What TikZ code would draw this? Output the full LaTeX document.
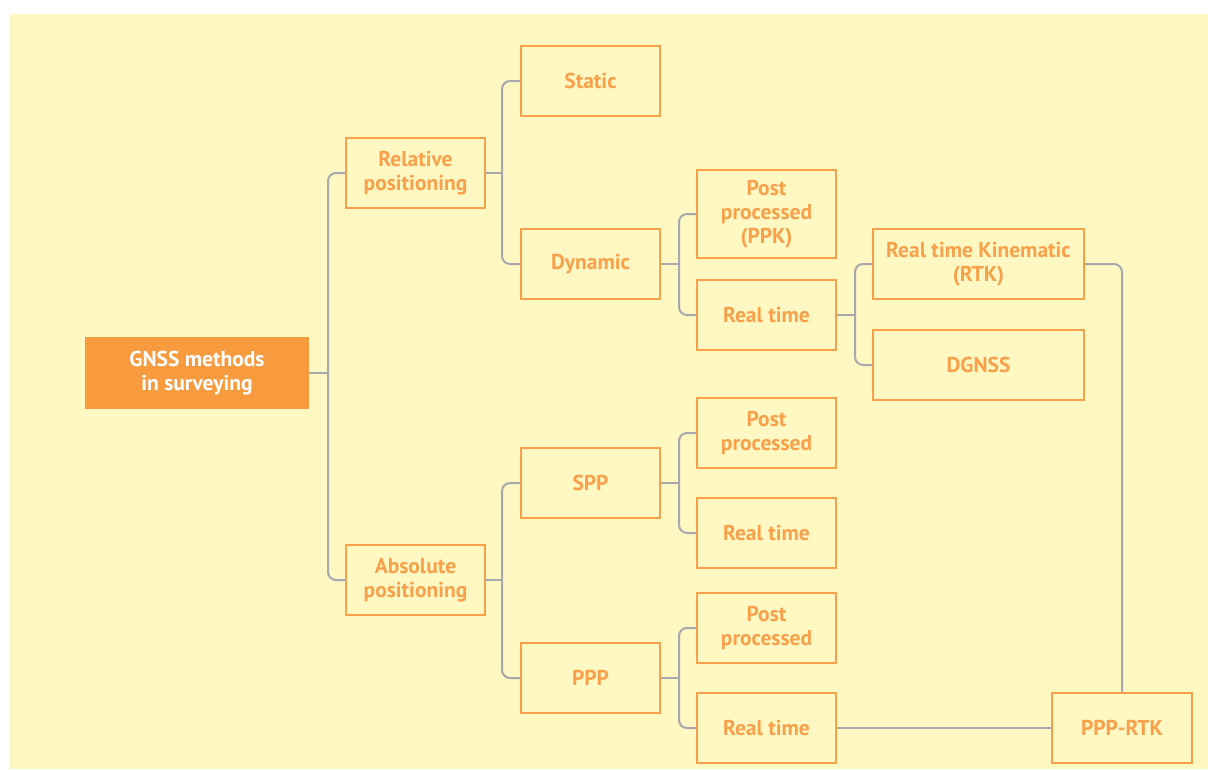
\documentclass[tikz,border=0pt]{standalone}
\usepackage{fontspec}
\setmainfont{PT Sans}
\usepackage{tikz}
\usepackage{xcolor}
\definecolor{paleyellow}{RGB}{255,248,194}
\definecolor{boxorange}{RGB}{249,160,74}
\definecolor{rootorange}{RGB}{247,155,62}
\definecolor{linkgray}{RGB}{168,168,176}

\tikzset{
	method/.style={rectangle,
		draw=boxorange,
		line width=2pt,
		text=boxorange,
		inner sep=0pt,
		minimum width=139pt,
		minimum height=70pt,
		align=center,
		font=\fontsize{21.5}{24}\selectfont\bfseries},
	widemethod/.style={method, minimum width=211pt},
	rootbox/.style={method, fill=rootorange, draw=rootorange, text=white, minimum width=222pt},
	link/.style={draw=linkgray, line width=2pt},
	branch/.style={link, rounded corners=8pt}
}

\begin{document}
\begin{tikzpicture}[x=1pt,y=-1pt]
	\useasboundingbox (0,0) rectangle (1208,769);
	\fill[paleyellow] (10,14) rectangle (1208,769);

	\node[rootbox] (root) at (197,373) {GNSS methods\\in surveying};

	\node[method] (rel) at (415.5,173) {Relative\\positioning};
	\node[method] (abs) at (415.5,580) {Absolute\\positioning};

	\node[method] (static) at (590.5,81) {Static};
	\node[method] (dyn) at (590.5,264) {Dynamic};
	\node[method] (spp) at (590.5,483) {SPP};
	\node[method] (ppp) at (590.5,678) {PPP};

	\node[method, minimum height=88pt] (ppk) at (766.5,214) {Post\\processed\\(PPK)};
	\node[method] (dynrt) at (766.5,315) {Real time};
	\node[method] (spppost) at (766.5,433) {Post\\processed};
	\node[method] (spprt) at (766.5,533) {Real time};
	\node[method] (ppppost) at (766.5,628) {Post\\processed};
	\node[method] (ppprt) at (766.5,728) {Real time};

	\node[widemethod] (rtk) at (978.5,264) {Real time Kinematic\\(RTK)};
	\node[widemethod] (dgnss) at (978.5,365) {DGNSS};

	\node[method, minimum width=140pt] (ppprtk) at (1122,728) {PPP-RTK};

	% tree links
	\draw[link] (root.east) -- ++(19,0) coordinate (jroot);
	\draw[branch] (jroot) |- (rel.west);
	\draw[branch] (jroot) |- (abs.west);

	\draw[link] (rel.east) -- ++(16,0) coordinate (jrel);
	\draw[branch] (jrel) |- (static.west);
	\draw[branch] (jrel) |- (dyn.west);

	\draw[link] (abs.east) -- ++(16,0) coordinate (jabs);
	\draw[branch] (jabs) |- (spp.west);
	\draw[branch] (jabs) |- (ppp.west);

	\draw[link] (dyn.east) -- ++(18,0) coordinate (jdyn);
	\draw[branch] (jdyn) |- (ppk.west);
	\draw[branch] (jdyn) |- (dynrt.west);

	\draw[link] (spp.east) -- ++(18,0) coordinate (jspp);
	\draw[branch] (jspp) |- (spppost.west);
	\draw[branch] (jspp) |- (spprt.west);

	\draw[link] (ppp.east) -- ++(18,0) coordinate (jppp);
	\draw[branch] (jppp) |- (ppppost.west);
	\draw[branch] (jppp) |- (ppprt.west);

	\draw[link] (dynrt.east) -- ++(18,0) coordinate (jrt);
	\draw[branch] (jrt) |- (rtk.west);
	\draw[branch] (jrt) |- (dgnss.west);

	% PPP-RTK
	\draw[branch] (rtk.east) -| (ppprtk.north);
	\draw[link] (ppprt.east) -- (ppprtk.west);
\end{tikzpicture}
\end{document}
